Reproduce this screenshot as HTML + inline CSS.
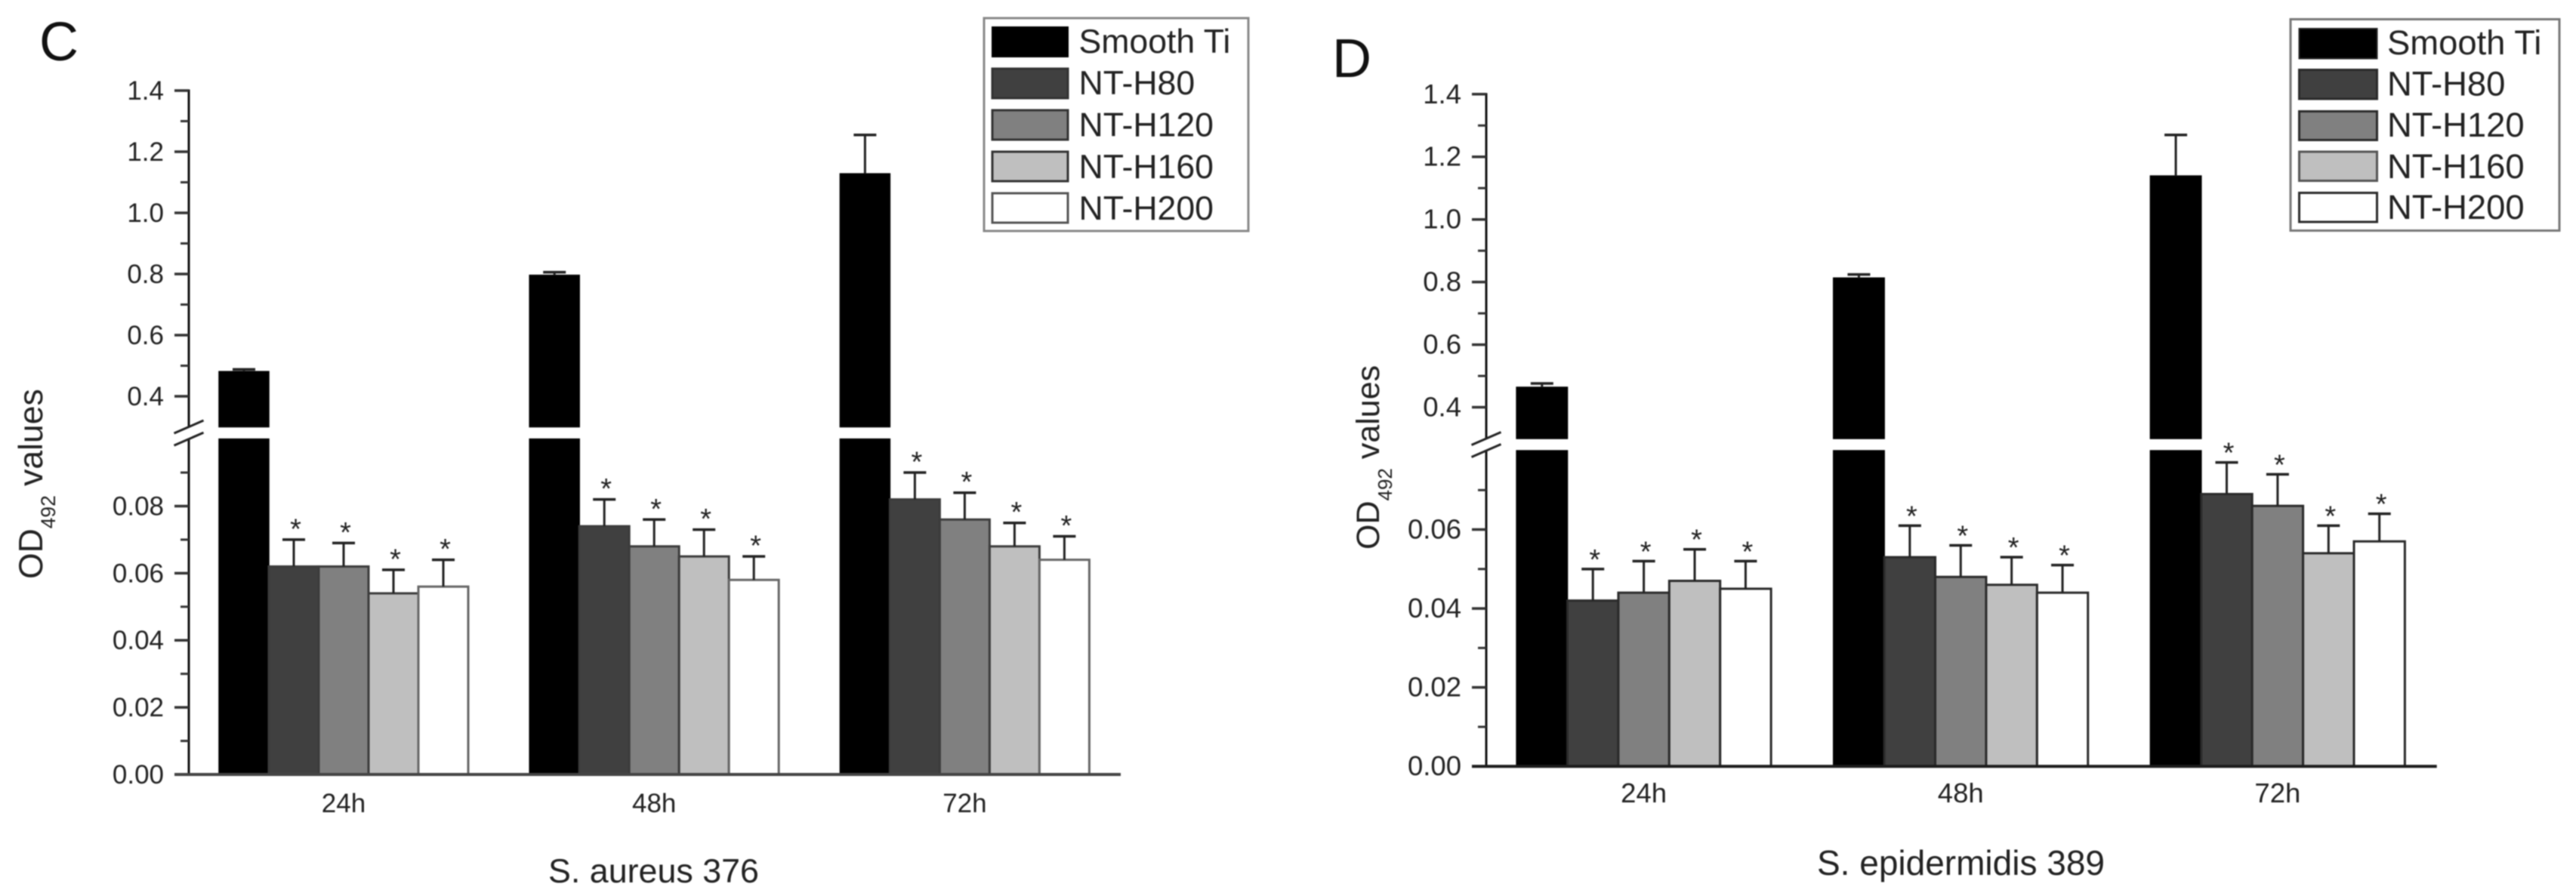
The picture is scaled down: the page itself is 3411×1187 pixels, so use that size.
<!DOCTYPE html>
<html lang="en">
<head>
<meta charset="utf-8">
<title>OD492 values for S. aureus 376 and S. epidermidis 389</title>
<style>
html,body{margin:0;padding:0;background:#fff;width:3411px;height:1187px;overflow:hidden}
svg{display:block;filter:blur(0.7px)}
text{font-family:"Liberation Sans",sans-serif;fill:#222}
</style>
</head>
<body>
<svg id="figure" xmlns="http://www.w3.org/2000/svg" width="3411" height="1187" viewBox="0 0 3411 1187">
  <rect x="0" y="0" width="3411" height="1187" fill="#fff"/>

  <g id="panel-c"></g>
  <g id="panel-d"></g>

  <text x="52" y="80" font-size="72" style="fill:#111">C</text>
  <text x="1764" y="102" font-size="72" style="fill:#111">D</text>

  <text transform="translate(56,767) rotate(-90)" font-size="44.5" xml:space="preserve">OD<tspan font-size="26.4" dy="17">492</tspan><tspan dy="-17"> values</tspan></text>
  <text transform="translate(1826,728) rotate(-90)" font-size="43" xml:space="preserve">OD<tspan font-size="26" dy="17">492</tspan><tspan dy="-17"> values</tspan></text>

  <text x="865.5" y="1169" font-size="44.8" text-anchor="middle">S. aureus 376</text>
  <text x="2596.5" y="1159" font-size="46" text-anchor="middle">S. epidermidis 389</text>

  <g>
    <rect x="1303" y="24" width="350" height="282" fill="#fff" stroke="#888" stroke-width="3"/>
    <rect x="1314" y="36" width="100" height="39" fill="#000" stroke="#000" stroke-width="2"/>
    <text x="1428.5" y="70" font-size="44.6">Smooth Ti</text>
    <rect x="1314" y="91" width="100" height="39" fill="#404040" stroke="#333" stroke-width="3"/>
    <text x="1428.5" y="125" font-size="44.6">NT-H80</text>
    <rect x="1314" y="146" width="100" height="39" fill="#808080" stroke="#333" stroke-width="3"/>
    <text x="1428.5" y="180.5" font-size="44.6">NT-H120</text>
    <rect x="1314" y="201" width="100" height="39" fill="#bfbfbf" stroke="#333" stroke-width="3"/>
    <text x="1428.5" y="236" font-size="44.6">NT-H160</text>
    <rect x="1314" y="256" width="100" height="39" fill="#fff" stroke="#555" stroke-width="3"/>
    <text x="1428.5" y="291" font-size="44.6">NT-H200</text>
  </g>

  <g>
    <rect x="3033" y="25.5" width="356" height="280" fill="#fff" stroke="#777" stroke-width="3"/>
    <rect x="3044.5" y="38" width="103" height="39.5" fill="#000" stroke="#222" stroke-width="2"/>
    <text x="3161" y="72" font-size="45.4">Smooth Ti</text>
    <rect x="3044.5" y="92.5" width="103" height="38.5" fill="#404040" stroke="#2a2a2a" stroke-width="3"/>
    <text x="3161" y="126.5" font-size="45.4">NT-H80</text>
    <rect x="3044.5" y="147.5" width="103" height="38" fill="#808080" stroke="#2a2a2a" stroke-width="3"/>
    <text x="3161" y="181" font-size="45.4">NT-H120</text>
    <rect x="3044.5" y="201" width="103" height="38.5" fill="#bfbfbf" stroke="#555" stroke-width="3"/>
    <text x="3161" y="236" font-size="45.4">NT-H160</text>
    <rect x="3044.5" y="255.5" width="103" height="38.5" fill="#fff" stroke="#2a2a2a" stroke-width="3"/>
    <text x="3161" y="290" font-size="45.4">NT-H200</text>
  </g>
</svg>

<script>
const categories = ['24h', '48h', '72h'];
const seriesNames = ['smooth-ti', 'nt-h80', 'nt-h120', 'nt-h160', 'nt-h200'];
const seriesFills = ['#000000', '#404040', '#808080', '#bfbfbf', '#ffffff'];

const upperTickLabels = ['0.4', '0.6', '0.8', '1.0', '1.2', '1.4'];
const upperMinorTicks = [0.5, 0.7, 0.9, 1.1, 1.3];
const cLowerTickLabels = ['0.00', '0.02', '0.04', '0.06', '0.08'];
const cLowerMinorTicks = [0.01, 0.03, 0.05, 0.07, 0.09];
const dLowerTickLabels = ['0.00', '0.02', '0.04', '0.06'];
const dLowerMinorTicks = [0.01, 0.03, 0.05, 0.07];

/* Panel C: S. aureus 376 — bar means and upper error-bar values */
const cSmoothTi = [0.481, 0.796, 1.128];
const cSmoothTiErrTop = [0.488, 0.806, 1.255];
const cH80 = [0.062, 0.074, 0.082];
const cH80ErrTop = [0.070, 0.082, 0.090];
const cH120 = [0.062, 0.068, 0.076];
const cH120ErrTop = [0.069, 0.076, 0.084];
const cH160 = [0.054, 0.065, 0.068];
const cH160ErrTop = [0.061, 0.073, 0.075];
const cH200 = [0.056, 0.058, 0.064];
const cH200ErrTop = [0.064, 0.065, 0.071];

/* Panel D: S. epidermidis 389 */
const dSmoothTi = [0.464, 0.813, 1.139];
const dSmoothTiErrTop = [0.476, 0.824, 1.270];
const dH80 = [0.042, 0.053, 0.069];
const dH80ErrTop = [0.050, 0.061, 0.077];
const dH120 = [0.044, 0.048, 0.066];
const dH120ErrTop = [0.052, 0.056, 0.074];
const dH160 = [0.047, 0.046, 0.054];
const dH160ErrTop = [0.055, 0.053, 0.061];
const dH200 = [0.045, 0.044, 0.057];
const dH200ErrTop = [0.052, 0.051, 0.064];

const SVG_NS = 'http://www.w3.org/2000/svg';

function make(parent, tag, attrs) {
  const el = document.createElementNS(SVG_NS, tag);
  for (const k in attrs) el.setAttribute(k, attrs[k]);
  parent.appendChild(el);
  return el;
}

function linear(d0, d1, r0, r1) {
  return function (v) { return r0 + (v - d0) * (r1 - r0) / (d1 - d0); };
}

function drawPanel(root, p) {
  const lowerY = linear(0, p.breakLow, p.lowerBottom, p.lowerTop);
  const upperY = linear(p.breakHigh, 1.4, p.upperBottom, p.upperTop);
  const y = function (v) { return v <= p.breakLow ? lowerY(v) : upperY(v); };
  const x = linear(0.5, categories.length + 0.5, p.xStart, p.xEnd);

  const barsLayer = make(root, 'g', {});
  
  

  p.values.forEach(function (vals, s) {
    vals.forEach(function (v, c) {
      const left = x(c + 1) + (s - 2.5) * p.barWidth;
      const stroke = s === 0 ? '#000' : (s === 4 ? p.whiteStroke : p.barStroke);
      if (v > p.breakLow) {
        const lowerPart = make(barsLayer, 'rect', {
          x: left, y: lowerY(p.breakLow), width: p.barWidth,
          height: lowerY(0) - lowerY(p.breakLow),
          fill: seriesFills[s], stroke: stroke, 'stroke-width': 1.5
        });
        
        
        const upperPart = make(barsLayer, 'rect', {
          x: left, y: upperY(v), width: p.barWidth,
          height: upperY(p.breakHigh) - upperY(v),
          fill: seriesFills[s], stroke: stroke, 'stroke-width': 1.5
        });
        
        
      } else {
        const bar = make(barsLayer, 'rect', {
          x: left, y: lowerY(v), width: p.barWidth,
          height: lowerY(0) - lowerY(v),
          fill: seriesFills[s], stroke: stroke, 'stroke-width': 3
        });
        
        
      }

      const cx = left + p.barWidth / 2;
      const top = p.errTops[s][c];
      const stem = make(barsLayer, 'line', {
        x1: cx, x2: cx, y1: y(v), y2: y(top), stroke: '#222', 'stroke-width': 3
      });
      
      
      const cap = make(barsLayer, 'line', {
        x1: cx - 15, x2: cx + 15, y1: y(top), y2: y(top), stroke: '#222', 'stroke-width': 3.5
      });
      
      

      if (s > 0) {
        const star = make(barsLayer, 'text', {
          x: cx + 2.5, y: y(top) - p.starGap + 22, 'font-size': 38, 'text-anchor': 'middle'
        });
        star.textContent = '*';
        
        
      }
    });
  });

  const axis = make(root, 'g', {});
  
  

  const upperSpine = make(axis, 'line', {
    x1: p.axisX, x2: p.axisX, y1: upperY(1.4) - 1.5, y2: upperY(p.breakHigh),
    stroke: '#111', 'stroke-width': 3
  });
  
  
  const lowerSpine = make(axis, 'line', {
    x1: p.axisX, x2: p.axisX, y1: lowerY(p.breakLow), y2: lowerY(0),
    stroke: '#111', 'stroke-width': 3
  });
  
  

  [upperY(p.breakHigh), lowerY(p.breakLow)].forEach(function (by) {
    const slash = make(axis, 'line', {
      x1: p.axisX - 19.5, x2: p.axisX + 19.5, y1: by + 8.5, y2: by - 8.5,
      stroke: '#222', 'stroke-width': 3
    });
    
    
  });

  function majorTick(label, scale) {
    const v = parseFloat(label);
    const tick = make(axis, 'line', {
      x1: p.axisX - 19, x2: p.axisX, y1: scale(v), y2: scale(v), stroke: '#333', 'stroke-width': 3.5
    });
    
    
    const t = make(axis, 'text', {
      x: p.tickLabelX, y: scale(v) + 12, 'font-size': p.tickFont, 'text-anchor': 'end'
    });
    t.textContent = label;
    
    
  }
  function minorTick(v, scale) {
    const tick = make(axis, 'line', {
      x1: p.axisX - 11, x2: p.axisX, y1: scale(v), y2: scale(v), stroke: '#333', 'stroke-width': 3
    });
    
    
  }
  upperTickLabels.forEach(function (l) { majorTick(l, upperY); });
  upperMinorTicks.forEach(function (v) { minorTick(v, upperY); });
  p.lowerLabels.forEach(function (l) { majorTick(l, lowerY); });
  p.lowerMinor.forEach(function (v) { minorTick(v, lowerY); });

  const baseline = make(root, 'line', {
    x1: p.axisX - 19, x2: p.xEnd + 1, y1: lowerY(0), y2: lowerY(0),
    stroke: p.baselineColor, 'stroke-width': 4
  });
  
  

  categories.forEach(function (name, c) {
    const t = make(root, 'text', {
      x: x(c + 1), y: p.categoryBaseline, 'font-size': p.tickFont, 'text-anchor': 'middle'
    });
    t.textContent = name;
    
    
  });
}

drawPanel(document.getElementById('panel-c'), {
  values: [cSmoothTi, cH80, cH120, cH160, cH200],
  errTops: [cSmoothTiErrTop, cH80ErrTop, cH120ErrTop, cH160ErrTop, cH200ErrTop],
  lowerLabels: cLowerTickLabels, lowerMinor: cLowerMinorTicks,
  breakLow: 0.1, breakHigh: 0.3,
  lowerBottom: 1026, lowerTop: 581.6, upperBottom: 565.5, upperTop: 120,
  xStart: 249.4, xEnd: 1483, barWidth: 66, axisX: 250,
  tickLabelX: 217, tickFont: 35, categoryBaseline: 1076, starGap: 23.5,
  barStroke: '#3c3c3c', whiteStroke: '#666', baselineColor: '#444'
});

drawPanel(document.getElementById('panel-d'), {
  values: [dSmoothTi, dH80, dH120, dH160, dH200],
  errTops: [dSmoothTiErrTop, dH80ErrTop, dH120ErrTop, dH160ErrTop, dH200ErrTop],
  lowerLabels: dLowerTickLabels, lowerMinor: dLowerMinorTicks,
  breakLow: 0.08, breakHigh: 0.3,
  lowerBottom: 1015.2, lowerTop: 597, upperBottom: 581, upperTop: 124.8,
  xStart: 1966.8, xEnd: 3225.7, barWidth: 67.4, axisX: 1968,
  tickLabelX: 1935, tickFont: 36.5, categoryBaseline: 1063, starGap: 22,
  barStroke: '#2a2a2a', whiteStroke: '#2a2a2a', baselineColor: '#1c1c1c'
});
</script>
</body>
</html>
